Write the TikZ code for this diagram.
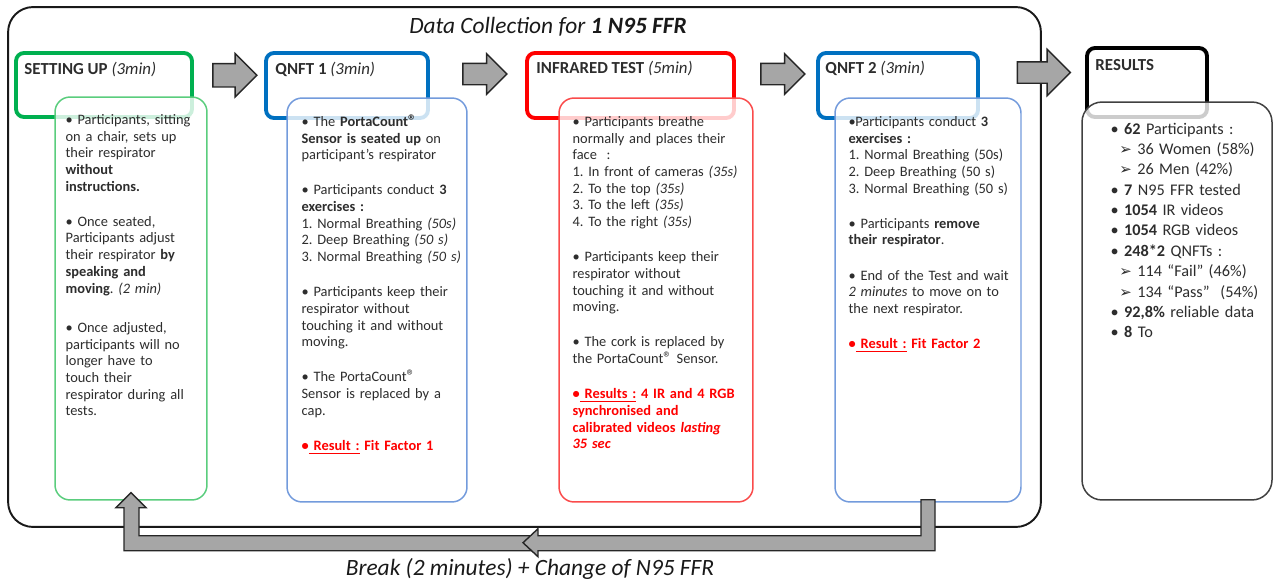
\documentclass[tikz,border=0pt]{standalone}
\usepackage{fontspec}
\setmainfont{Carlito}
\newfontfamily\symfont{DejaVu Sans}
\usetikzlibrary{shapes.arrows, positioning, calc}
\usepackage{xcolor}

\definecolor{hdrGreen}{RGB}{0,176,80}
\definecolor{hdrBlue}{RGB}{0,112,192}
\definecolor{boxGreen}{RGB}{90,205,125}
\definecolor{boxBlue}{RGB}{115,155,220}
\definecolor{boxRed}{RGB}{250,75,75}
\definecolor{txtGray}{RGB}{45,45,45}
\definecolor{resRed}{RGB}{255,0,0}

\setlength{\parindent}{0pt}
\frenchspacing
% list helpers
\newcommand{\itm}[1]{\par\hangindent=3pt\hangafter=1\strut\textbullet\ #1}
\newcommand{\numitm}[1]{\par\strut #1}
\newcommand{\subitm}[1]{\par\strut\hspace*{5pt}{\symfont\fontsize{8.5}{8.5}\selectfont ➢}\ #1}
\newcommand{\resitm}[1]{\par\hangindent=3pt\hangafter=1\leavevmode\strut{\color{resRed}\bfseries\textbullet#1}}
\newcommand{\gap}{\par\vspace{10.5pt}}
\newcommand{\reg}{{\fontsize{9.5}{10}\selectfont ®}}

\tikzset{
    % Frames
    frame/.style={rectangle, draw=black!90, line width=1.1pt, rounded corners=0.5cm, inner sep=0pt},
    hdr/.style={rectangle, line width=2.2pt, rounded corners=0.16cm, inner sep=0pt},
    stepbox/.style={rectangle, line width=0.85pt, rounded corners=0.3cm,
                    fill=white, fill opacity=0.8, inner sep=0pt},
    % Texts
    titletxt/.style={anchor=base, inner sep=0pt, text=black!90,
                     font=\fontsize{13.3}{16}\selectfont\itshape},
    hdrtxt/.style={anchor=base west, inner sep=0pt, text=txtGray,
                   font=\fontsize{9.6}{11}\selectfont},
    bodytxt/.style={anchor=north west, inner sep=0pt, align=left, text=txtGray,
                    font=\fontsize{8.2}{9.5}\selectfont},
    restxt/.style={anchor=north west, inner sep=0pt, align=left, text=txtGray,
                   font=\fontsize{9.25}{11.6}\selectfont},
    % Arrows
    fatarrow/.style={single arrow, draw=black!85, fill=black!35, line width=0.8pt,
                     inner xsep=0pt, inner ysep=0.22cm, single arrow head extend=0.2cm,
                     minimum height=0.88cm},
    backarrow/.style={draw=black!85, fill=black!35, line width=0.8pt}
}

\begin{document}
\begin{tikzpicture}[x=0.02cm, y=-0.02cm]
\useasboundingbox (0,0) rectangle (1273,582);

% outer frame
\node[frame, minimum width=20.66cm, minimum height=10.4cm] (frame) at (524.5,267) {};
\node[titletxt] (title) at (548,33) {Data Collection for \textbf{1 N95 FFR}};

% step headers
\node[hdr, draw=hdrGreen, minimum width=3.52cm, minimum height=1.28cm] (setup) at (104,85) {};
\node[hdr, draw=hdrBlue, minimum width=3.24cm, minimum height=1.3cm] (qnft1) at (347,85.5) {};
\node[hdr, draw=resRed, minimum width=4.14cm, minimum height=1.3cm] (ir) at (630.5,85.5) {};
\node[hdr, draw=hdrBlue, minimum width=3.2cm, minimum height=1.3cm] (qnft2) at (898,85.5) {};
\node[hdr, draw=black, minimum width=2.4cm, minimum height=1.38cm] (res) at (1147,82.5) {};

\node[hdrtxt] (setupH) at ([shift={(10,23)}]setup.north west) {\textbf{SETTING UP} \textit{(3min)}};
\node[hdrtxt] (qnft1H) at ([shift={(11,23)}]qnft1.north west) {\textbf{QNFT 1} \textit{(3min)}};
\node[hdrtxt] (irH) at ([shift={(11,22)}]ir.north west) {\textbf{INFRARED TEST} \textit{(5min)}};
\node[hdrtxt] (qnft2H) at ([shift={(9,22)}]qnft2.north west) {\textbf{QNFT 2} \textit{(3min)}};
\node[hdrtxt] (resH) at ([shift={(10,24)}]res.north west) {\textbf{RESULTS}};

% step contents
\node[stepbox, draw=boxGreen, minimum width=3.04cm, minimum height=8.06cm] (setupB) at (131,298.5) {};
\node[stepbox, draw=boxBlue, minimum width=3.6cm, minimum height=8.08cm] (qnft1B) at (377,300) {};
\node[stepbox, draw=boxRed, minimum width=3.88cm, minimum height=8.08cm] (irB) at (656,300) {};
\node[stepbox, draw=boxBlue, minimum width=3.72cm, minimum height=8.08cm] (qnft2B) at (928,300) {};
\node[stepbox, draw=black!75, minimum width=3.8cm, minimum height=7.96cm, rounded corners=0.4cm] (resB) at (1177,301) {};

\node[bodytxt, text width=2.8cm] (setupL) at ([shift={(11,11)}]setupB.north west) {
  \itm{Participants, sitting\\ on a chair, sets up\\ their respirator\\ \textbf{without}\\ \textbf{instructions.}}
  \gap
  \itm{Once seated,\\ Participants adjust\\ their respirator \textbf{by}\\ \textbf{speaking and}\\ \textbf{moving}. \textit{(2 min)}}
  \par\vspace{13pt}
  \itm{Once adjusted,\\ participants will no\\ longer have to\\ touch their\\ respirator during all\\ tests.}
};

\node[bodytxt, text width=3.3cm] (qnft1L) at ([shift={(15,12)}]qnft1B.north west) {
  \itm{The \textbf{PortaCount\reg}\\ \textbf{Sensor is seated up} on\\ participant’s respirator}
  \gap
  \itm{Participants conduct \textbf{3}\\ \textbf{exercises :}}
  \numitm{1. Normal Breathing \textit{(50s)}}
  \numitm{2. Deep Breathing \textit{(50 s)}}
  \numitm{3. Normal Breathing \textit{(50 s)}}
  \gap
  \itm{Participants keep their\\ respirator without\\ touching it and without\\ moving.}
  \gap
  \itm{The PortaCount\reg\\ Sensor is replaced by a\\ cap.}
  \gap
  \resitm{\underline{\ Result :} Fit Factor 1}
};

\node[bodytxt, text width=3.5cm] (irL) at ([shift={(14,12)}]irB.north west) {
  \itm{Participants breathe\\ normally and places their\\ face\ \ :}
  \numitm{1. In front of cameras \textit{(35s)}}
  \numitm{2. To the top \textit{(35s)}}
  \numitm{3. To the left \textit{(35s)}}
  \numitm{4. To the right \textit{(35s)}}
  \gap
  \itm{Participants keep their\\ respirator without\\ touching it and without\\ moving.}
  \gap
  \itm{The cork is replaced by\\ the PortaCount\reg\ Sensor.}
  \gap
  \resitm{\underline{\ Results :} 4 IR and 4 RGB\\ synchronised and\\ calibrated videos \textit{lasting}\\ \textit{35 sec}}
};

\node[bodytxt, text width=3.4cm] (qnft2L) at ([shift={(14,12)}]qnft2B.north west) {
  \itm{\hspace*{-3pt}Participants conduct \textbf{3}\\ \textbf{exercises :}}
  \numitm{1. Normal Breathing (50s)}
  \numitm{2. Deep Breathing (50 s)}
  \numitm{3. Normal Breathing (50 s)}
  \gap
  \itm{Participants \textbf{remove}\\ \textbf{their respirator}.}
  \gap
  \itm{End of the Test and wait\\ \textit{2 minutes} to move on to\\ the next respirator.}
  \gap
  \resitm{\underline{\ Result :} Fit Factor 2}
};

\node[restxt, text width=3.2cm] (resL) at ([shift={(29,12)}]resB.north west) {
  \itm{\textbf{62} Participants :}
  \subitm{36 Women (58\%)}
  \subitm{26 Men (42\%)}
  \itm{\textbf{7} N95 FFR tested}
  \itm{\textbf{1054} IR videos}
  \itm{\textbf{1054} RGB videos}
  \itm{\textbf{248*2} QNFTs :}
  \subitm{114 “Fail” (46\%)}
  \subitm{134 “Pass”\ \ (54\%)}
  \itm{\textbf{92,8\%} reliable data}
  \itm{\textbf{8} To}
};

% block arrows between steps
\node[fatarrow] (a1) at ([yshift=0.2cm]$(setup.east)!0.5!(qnft1.west)$) {};
\node[fatarrow, inner ysep=0.2cm, single arrow head extend=0.19cm] (a2) at ([xshift=0.04cm, yshift=0.23cm]$(qnft1.east)!0.5!(ir.west)$) {};
\node[fatarrow, inner ysep=0.2cm, single arrow head extend=0.19cm] (a3) at ([xshift=0.03cm, yshift=0.23cm]$(ir.east)!0.5!(qnft2.west)$) {};
\node[fatarrow, inner ysep=0.2cm, single arrow head extend=0.25cm, minimum height=1.06cm] (a4) at ([xshift=0.12cm, yshift=0.23cm]$(qnft2.east)!0.5!(res.west)$) {};

% return arrow to the next respirator
\draw[backarrow] ([shift={(0,-8)}]setupB.south) -- ++(15,15) -- ++(-7,0) -- ++(0,28)
  -- ++(395,0) -- ++(0,15) -- ++(-410,0) -- ++(0,-43) -- ++(-8,0) -- cycle;
\draw[backarrow] ([shift={(-7,-3)}]qnft2B.south) -- ++(14,0) -- ++(0,51) -- ++(-397,0)
  -- ++(0,6) -- ++(-15,-14) -- ++(15,-14) -- ++(0,7) -- ++(383,0) -- cycle;
\node[titletxt] (brk) at (530,575) {Break (2 minutes) + Change of N95 FFR};

\end{tikzpicture}
\end{document}
